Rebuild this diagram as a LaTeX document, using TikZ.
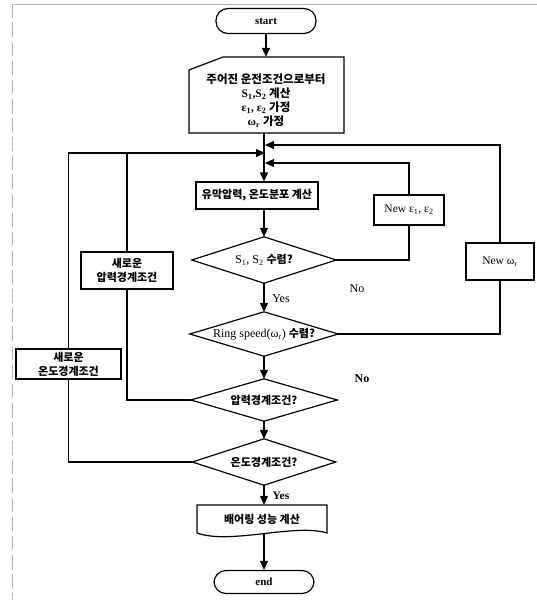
\documentclass[tikz,border=0pt]{standalone}
\usepackage{fontspec}
\setmainfont{Liberation Serif}
\newfontfamily\kr{Noto Sans CJK KR}
\usetikzlibrary{arrows.meta,calc}
\begin{document}
\begin{tikzpicture}[x=1pt,y=-1pt,
  ln/.style={line width=1.2pt},
  arr/.style={line width=1.2pt,-{Triangle[length=9pt,width=8pt]}},
  term/.style={draw,line width=1.2pt,rounded corners=12pt,minimum width=100pt,minimum height=25pt,inner sep=0pt,font=\bfseries\fontsize{11}{13}\selectfont},
  box/.style={draw,line width=1.2pt,inner sep=0pt,align=center,font=\fontsize{11}{14}\selectfont},
  shp/.style={inner sep=0pt,align=center,font=\fontsize{12}{14}\selectfont},
  lab/.style={inner sep=0pt,font=\fontsize{12}{13}\selectfont},
  artifact/.style={draw=gray!60,line width=0.6pt}
]
\useasboundingbox (0,0) rectangle (537,605);
% scan frame
\draw[artifact] (12,4) -- (537,4);
\draw[artifact,dash pattern=on 14pt off 5pt] (12,4) -- (12,600);

\coordinate (ax) at (264,0);
% nodes
\node[term] (start) at (266,21) {start};
\node[shp,minimum width=155pt,minimum height=76pt] (inp) at (266.5,95) {};
\draw[ln] (189,133) -- (189,70) -- (223,57) -- (344,57) -- (344,133) -- cycle;
\node[shp,font=\fontsize{11.5}{14}\selectfont] (inptext) at (266,101)
  {{\kr\bfseries 주어진 운전조건으로부터}\\
   \textbf{S\textsubscript{1},S\textsubscript{2}} {\kr\bfseries 계산}\\
   \textbf{ε\textsubscript{1}, ε\textsubscript{2}} {\kr\bfseries 가정}\\
   \textbf{ω\textsubscript{r}} {\kr\bfseries 가정}};

\node[box,minimum width=122pt,minimum height=27pt] (p1) at (257,195.5) {\kr\bfseries 유막압력, 온도분포 계산};

\node[shp,minimum width=144pt,minimum height=46pt] (d1) at (264,260) {S\textsubscript{1}, S\textsubscript{2} {\kr\bfseries\fontsize{11}{14}\selectfont 수렴?}};
\draw[ln] (d1.north) -- (d1.east) -- (d1.south) -- (d1.west) -- cycle;

\node[shp,minimum width=148pt,minimum height=44pt] (d2) at (264,334) {Ring speed(ω\textsubscript{r}) {\kr\bfseries\fontsize{11}{14}\selectfont 수렴?}};
\draw[ln] (d2.north) -- (d2.east) -- (d2.south) -- (d2.west) -- cycle;

\node[shp,minimum width=146pt,minimum height=42pt] (d3) at (264,400) {\kr\bfseries\fontsize{11}{14}\selectfont 압력경계조건?};
\draw[ln] (d3.north) -- (d3.east) -- (d3.south) -- (d3.west) -- cycle;

\node[shp,minimum width=143pt,minimum height=46pt] (d4) at (264,462) {\kr\bfseries\fontsize{11}{14}\selectfont 온도경계조건?};
\draw[ln] (d4.north) -- (d4.east) -- (d4.south) -- (d4.west) -- cycle;

\node[shp,minimum width=130pt,minimum height=28pt,font=\fontsize{11}{14}\selectfont] (p2) at (262,519) {\kr\bfseries 배어링 성능 계산};
\draw[ln] (197,533) -- (197,505) -- (327,505) -- (327,533) .. controls (295,523) and (230,545) .. (197,533);

\node[term,minimum height=23pt] (end) at (264,582) {end};

\node[box,minimum width=92pt,minimum height=37pt] (nb1) at (127,270.5) {\kr\bfseries 새로운\\\kr\bfseries 압력경계조건};
\node[box,minimum width=105pt,minimum height=30pt] (nb2) at (68.5,364) {\kr\bfseries 새로운\\\kr\bfseries 온도경계조건};
\node[box,minimum width=70pt,minimum height=30pt,font=\fontsize{11.5}{13}\selectfont] (ne) at (409,210) {New ε\textsubscript{1}, ε\textsubscript{2}};
\node[box,minimum width=68pt,minimum height=37pt,font=\fontsize{11.5}{13}\selectfont] (nw) at (500,261.5) {New ω\textsubscript{r}};

% junction points on the main axis
\coordinate (j3) at (265,145);
\coordinate (j1) at (265,153);
\coordinate (j2) at (265,163);

% main flow
\draw[arr] (start.south) -- (start.south |- inp.north);
\draw[arr] (inp.south -| ax) -- (p1.north -| ax);
\draw[arr] (p1.south -| ax) -- (d1.north);
\draw[arr] (d1.south) -- (d2.north);
\draw[arr] (d2.south) -- (d3.north);
\draw[arr] (d3.south) -- (d4.north);
\draw[arr] (d4.south) -- (p2.north -| ax);
\draw[arr] (264,534) -- (end.north);

% right loops
\draw[ln] (d1.east) -| (ne.south);
\draw[arr] (ne.north) |- (j2);
\draw[ln] (d2.east) -| (nw.south);
\draw[arr] (nw.north) |- (j3);

% left loops
\draw[ln] (d3.west) -| (nb1.south);
\draw[ln] (nb1.north) |- (j1);
\draw[ln] (d4.west) -| (nb2.south);
\draw[arr] (nb2.north) |- (j1);

% labels
\node[lab] (yes1) at (281,299) {Yes};
\node[lab] (no1) at (357,289) {No};
\node[lab,font=\bfseries\fontsize{12}{13}\selectfont] (no2) at (362,379) {No};
\node[lab,font=\bfseries\fontsize{11.5}{13}\selectfont] (yes2) at (281,496) {Yes};
\end{tikzpicture}
\end{document}
